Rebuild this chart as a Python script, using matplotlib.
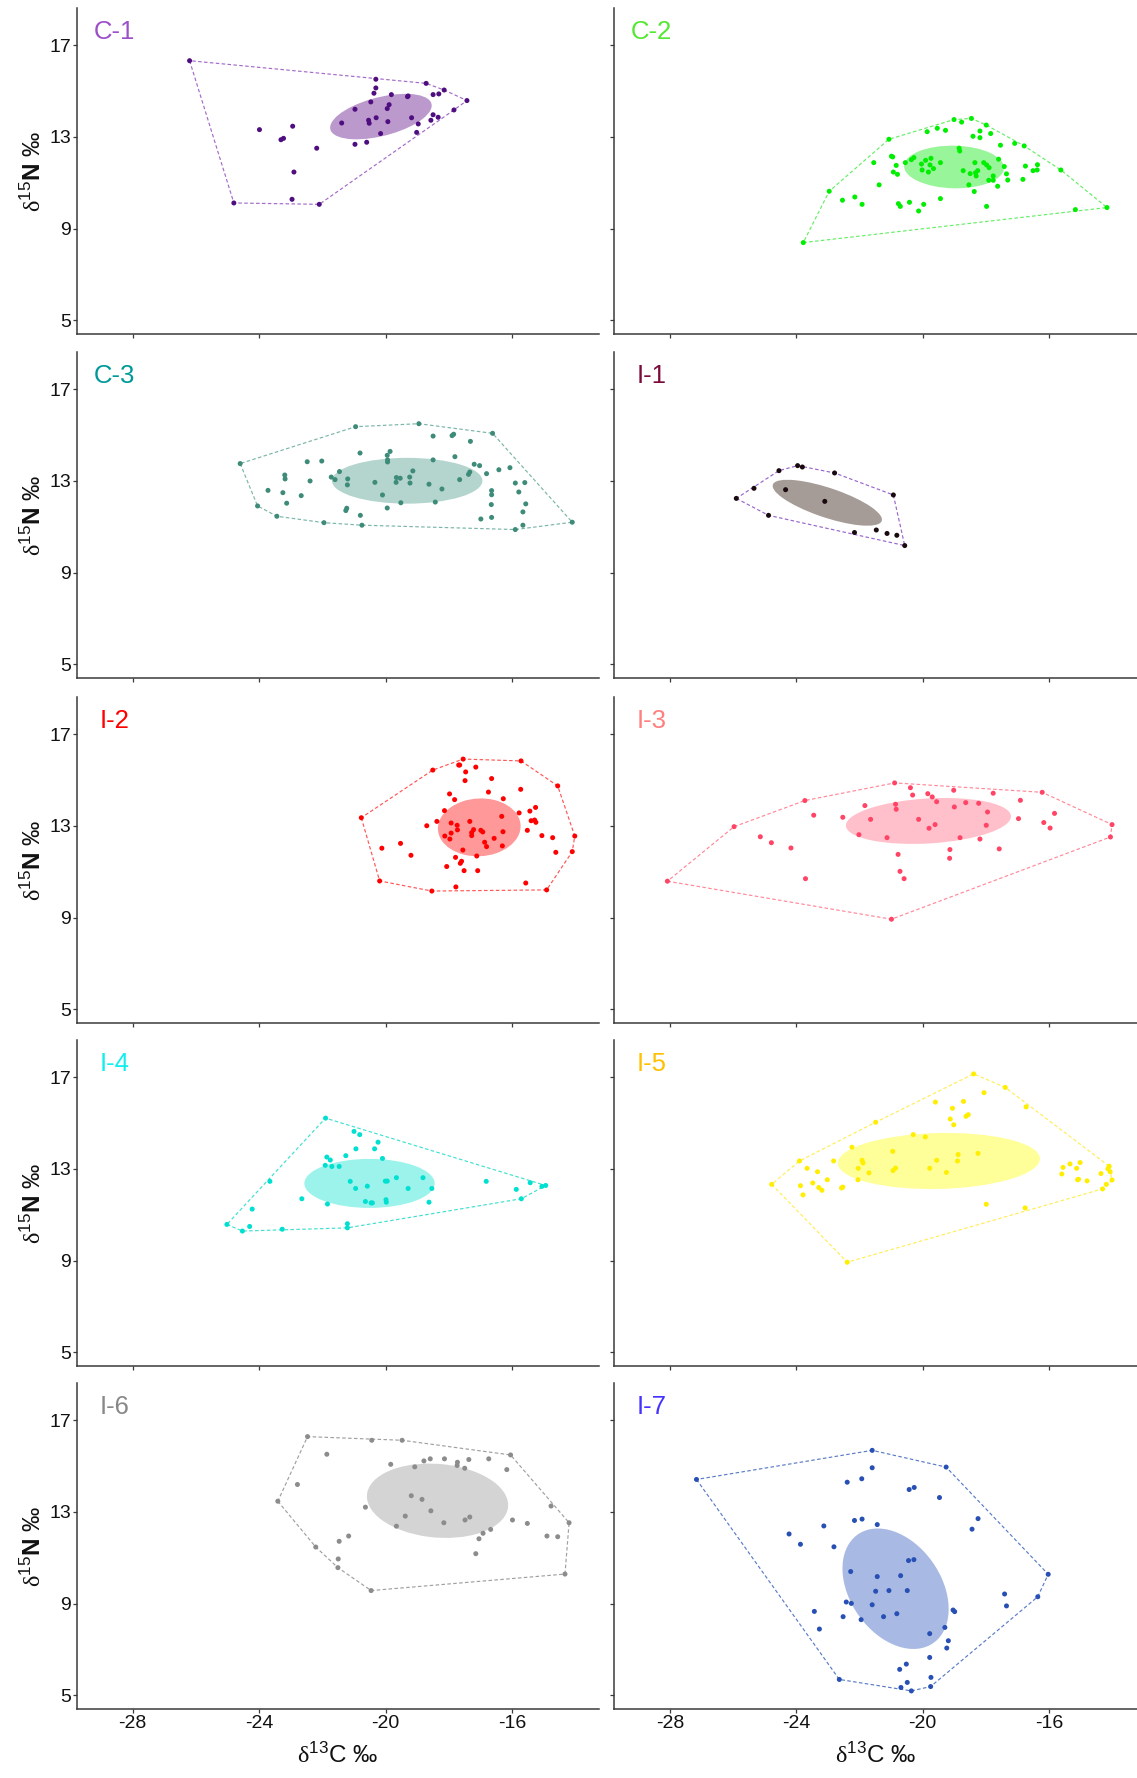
"""
Isotopic niche panels: d13C vs d15N per group with convex hulls and SEA ellipses.
"""

import numpy as np
import matplotlib.pyplot as plt
from matplotlib.patches import Ellipse
from matplotlib.transforms import blended_transform_factory

plt.rcParams["font.family"] = ["Liberation Sans", "DejaVu Sans"]
plt.rcParams["mathtext.fontset"] = "custom"
plt.rcParams["mathtext.rm"] = "Liberation Sans"
plt.rcParams["mathtext.it"] = "Liberation Sans:italic"
plt.rcParams["mathtext.bf"] = "Liberation Sans:bold"
plt.rcParams["mathtext.sf"] = "Liberation Serif"

# ---- data: d13C (x) and d15N (y) per group ----
C1_C = [-26.20, -20.31, -18.72, -18.15, -17.43, -17.84, -20.31, -20.37, -19.82, -19.31,
        -19.29, -18.50, -18.32, -20.47, -19.89, -19.95, -20.97, -18.50, -18.34, -19.18,
        -20.30, -18.57, -21.39, -20.54, -20.52, -19.93, -18.97, -23.99, -22.94, -19.02,
        -20.16, -23.31, -23.23, -20.97, -20.60, -22.18, -22.90, -22.96, -24.80, -22.10]
C1_N = [16.33, 15.52, 15.34, 15.05, 14.59, 14.18, 15.14, 14.91, 14.85, 14.76,
        14.79, 14.85, 14.88, 14.53, 14.41, 14.24, 14.21, 13.97, 13.86, 13.84,
        13.84, 13.73, 13.61, 13.73, 13.60, 13.67, 13.57, 13.32, 13.47, 13.20,
        13.15, 12.88, 12.94, 12.68, 12.77, 12.51, 11.47, 10.28, 10.12, 10.06]

C2_C = [-23.78, -22.96, -21.07, -19.01, -18.77, -18.46, -17.99, -19.86, -19.54, -19.28,
        -18.41, -18.19, -18.19, -17.85, -17.54, -17.09, -16.79, -15.63, -14.17, -15.17,
        -21.55, -20.99, -20.95, -20.84, -20.93, -20.80, -20.55, -20.36, -20.28, -20.04,
        -19.91, -19.77, -19.74, -19.66, -19.82, -20.02, -19.44, -18.85, -18.83, -18.72,
        -18.50, -18.33, -18.26, -18.31, -18.35, -18.07, -17.98, -17.90, -17.60, -17.42,
        -17.77, -17.91, -17.77, -17.35, -17.31, -17.63, -16.83, -16.75, -16.51, -16.38,
        -16.37, -18.54, -18.37, -17.98, -19.44, -19.97, -20.13, -20.42, -20.71, -20.77,
        -21.38, -21.92, -22.15, -22.54]
C2_N = [8.39, 10.63, 12.90, 13.76, 13.65, 13.81, 13.52, 13.23, 13.38, 13.29,
        13.03, 13.26, 12.97, 13.15, 12.64, 12.72, 12.61, 11.56, 9.92, 9.83,
        11.88, 12.16, 12.13, 11.76, 11.47, 11.37, 11.88, 12.01, 12.10, 11.82,
        11.98, 11.78, 12.07, 11.62, 11.47, 11.56, 11.88, 12.51, 12.39, 11.53,
        11.40, 11.44, 11.53, 11.30, 11.88, 11.88, 11.78, 11.66, 12.03, 11.71,
        11.30, 11.11, 11.11, 11.39, 11.12, 10.85, 11.15, 11.73, 11.53, 11.56,
        11.79, 10.91, 10.62, 9.97, 10.31, 10.06, 9.77, 10.15, 9.97, 10.09,
        10.91, 10.06, 10.38, 10.24]

C3_C = [-24.60, -24.05, -23.44, -21.95, -20.75, -15.90, -15.66, -14.10, -16.62, -18.95,
        -20.95, -18.50, -17.90, -17.85, -17.32, -20.81, -19.86, -19.95, -19.94, -19.94,
        -18.50, -17.81, -17.20, -17.03, -16.07, -16.42, -16.81, -17.34, -17.38, -17.66,
        -15.90, -15.60, -15.79, -16.65, -16.65, -16.66, -16.65, -16.99, -15.57, -15.66,
        -22.48, -22.02, -23.19, -23.18, -22.39, -21.72, -21.60, -21.46, -21.20, -21.21,
        -23.72, -23.25, -23.13, -22.67, -20.34, -20.10, -19.66, -19.54, -19.67, -19.24,
        -19.23, -19.14, -18.63, -18.22, -18.43, -19.52, -19.95, -21.23, -21.26, -20.80]
C3_N = [13.76, 11.91, 11.46, 11.18, 11.07, 10.88, 11.07, 11.20, 15.08, 15.50,
        15.37, 14.96, 14.98, 15.04, 14.73, 14.22, 14.29, 14.12, 13.92, 13.83,
        13.92, 14.06, 13.73, 13.67, 13.58, 13.49, 13.32, 13.39, 13.29, 13.06,
        12.91, 12.93, 12.52, 12.58, 12.40, 11.97, 11.41, 11.34, 12.00, 11.65,
        13.84, 13.87, 13.26, 13.09, 13.00, 13.17, 13.06, 13.41, 13.09, 12.83,
        12.59, 12.49, 12.03, 12.36, 12.94, 12.39, 13.15, 13.12, 12.94, 13.17,
        12.91, 13.44, 12.86, 12.65, 12.08, 12.05, 11.82, 11.81, 11.71, 11.50]

I1_C = [-25.90, -25.34, -24.88, -24.55, -23.96, -23.81, -22.79, -20.93, -20.57, -24.34,
        -23.10, -22.16, -21.47, -21.13, -20.82]
I1_N = [12.24, 12.68, 11.50, 13.45, 13.67, 13.61, 13.35, 12.39, 10.18, 12.62,
        12.11, 10.75, 10.86, 10.71, 10.63]

I2_C = [-20.77, -20.19, -18.54, -14.91, -14.10, -14.02, -14.56, -15.72, -17.55, -18.51,
        -17.69, -17.66, -17.47, -17.15, -17.49, -16.65, -15.73, -16.75, -17.98, -17.82,
        -16.28, -18.14, -18.38, -18.70, -17.93, -17.74, -17.73, -17.34, -17.93, -18.13,
        -17.97, -17.28, -17.22, -17.28, -16.99, -16.93, -16.33, -15.78, -15.44, -15.26,
        -15.40, -15.29, -15.25, -15.52, -16.29, -16.57, -15.06, -14.72, -14.62, -16.87,
        -16.81, -16.31, -17.56, -17.12, -17.79, -17.60, -17.64, -18.07, -17.52, -17.09,
        -17.78, -15.57, -20.12, -19.53, -19.20]
I2_N = [13.36, 10.60, 10.16, 10.21, 11.88, 12.56, 14.75, 15.84, 15.92, 15.44,
        15.66, 15.66, 15.36, 15.57, 14.98, 15.07, 14.60, 14.48, 14.40, 14.15,
        14.19, 13.67, 13.20, 13.01, 13.13, 13.03, 12.83, 13.20, 12.69, 12.56,
        12.43, 12.58, 12.84, 12.71, 12.81, 12.74, 13.42, 13.57, 13.65, 13.81,
        13.23, 13.26, 13.16, 12.81, 12.75, 12.46, 12.58, 12.49, 11.85, 12.29,
        12.10, 12.13, 11.95, 11.69, 11.63, 11.46, 11.37, 11.23, 11.05, 11.05,
        10.34, 10.51, 12.03, 12.24, 11.72]

I3_C = [-28.08, -25.97, -23.73, -20.89, -20.39, -19.02, -17.77, -16.22, -14.01, -14.06,
        -20.99, -20.32, -19.84, -19.70, -19.56, -21.83, -20.86, -20.84, -23.45, -22.53,
        -21.65, -20.13, -19.80, -19.61, -19.00, -18.64, -18.23, -17.95, -17.99, -16.91,
        -16.97, -16.17, -15.97, -15.83, -22.02, -21.13, -18.82, -18.19, -17.58, -19.14,
        -19.15, -20.78, -20.72, -20.59, -23.71, -25.14, -24.79, -24.17]
I3_N = [10.59, 12.97, 14.11, 14.88, 14.67, 14.56, 14.43, 14.47, 13.06, 12.52,
        8.93, 14.35, 14.41, 14.27, 14.06, 13.89, 13.95, 13.73, 13.47, 13.38,
        13.29, 13.29, 12.90, 13.06, 13.83, 14.02, 13.99, 13.61, 13.03, 14.12,
        13.32, 13.15, 12.91, 13.55, 12.62, 12.49, 12.49, 12.43, 12.00, 11.97,
        11.59, 11.76, 11.02, 10.70, 10.70, 12.53, 12.27, 12.04]

I4_C = [-25.02, -24.53, -24.30, -23.27, -21.21, -21.21, -21.90, -21.00, -20.82, -20.24,
        -20.94, -20.35, -21.26, -21.86, -21.75, -21.91, -21.70, -21.47, -20.10, -23.66,
        -21.12, -20.95, -20.58, -20.01, -19.95, -19.66, -19.29, -18.82, -18.54, -16.82,
        -15.87, -15.43, -15.06, -14.94, -15.71, -18.63, -20.64, -20.46, -20.42, -19.99,
        -19.98, -21.84, -22.65, -24.22]
I4_N = [10.58, 10.29, 10.49, 10.37, 10.43, 10.61, 15.22, 14.64, 14.50, 14.17,
        13.88, 13.88, 13.58, 13.52, 13.39, 13.16, 13.11, 13.11, 13.46, 12.46,
        12.46, 12.15, 12.25, 12.47, 12.47, 12.62, 12.15, 12.62, 12.15, 12.46,
        12.11, 12.40, 12.24, 12.28, 11.70, 11.55, 11.58, 11.52, 11.52, 11.66,
        11.55, 11.47, 11.70, 11.25]

I5_C = [-24.78, -23.90, -21.49, -18.39, -17.39, -16.73, -14.10, -14.01, -14.19, -14.31,
        -22.39, -16.76, -17.99, -19.60, -19.06, -18.71, -18.06, -19.13, -19.02, -18.63,
        -18.56, -20.30, -19.92, -22.24, -20.95, -18.88, -18.25, -22.82, -21.92, -21.89,
        -19.56, -18.90, -22.04, -21.70, -20.94, -20.86, -19.78, -19.25, -23.66, -23.33,
        -23.02, -22.05, -23.87, -23.48, -23.29, -23.19, -23.79, -22.57, -22.53, -15.60,
        -15.56, -15.34, -15.13, -15.02, -15.10, -15.07, -14.80, -14.36, -14.14, -14.07]
I5_N = [12.33, 13.35, 15.04, 17.15, 16.56, 15.71, 13.12, 12.52, 12.33, 12.13,
        8.93, 11.30, 11.46, 15.92, 15.65, 15.95, 16.33, 15.18, 14.93, 15.30,
        15.37, 14.50, 14.40, 13.95, 13.77, 13.63, 13.68, 13.35, 13.38, 13.26,
        13.38, 13.35, 13.03, 12.83, 12.93, 13.04, 13.03, 12.85, 13.03, 12.88,
        12.53, 12.53, 12.27, 12.39, 12.19, 12.07, 11.87, 12.17, 12.21, 12.78,
        13.07, 13.22, 13.03, 13.28, 12.53, 12.55, 12.48, 12.80, 13.01, 12.88]

I6_C = [-23.41, -22.47, -20.44, -19.48, -16.05, -14.77, -14.20, -14.33, -20.46, -21.51,
        -22.21, -21.86, -22.79, -19.84, -19.08, -18.79, -18.59, -18.14, -17.73, -17.74,
        -17.37, -17.50, -16.74, -16.17, -19.19, -18.85, -20.64, -18.57, -19.38, -19.66,
        -18.16, -17.49, -17.34, -15.99, -15.52, -16.68, -16.92, -17.05, -17.15, -14.90,
        -14.56, -21.17, -21.47, -21.50]
I6_N = [13.47, 16.29, 16.13, 16.13, 15.49, 13.26, 12.53, 10.29, 9.57, 10.57,
        11.47, 15.52, 14.20, 15.08, 14.97, 15.23, 15.32, 15.32, 15.17, 15.03,
        15.29, 14.91, 15.32, 14.85, 13.71, 13.55, 13.21, 13.05, 12.82, 12.38,
        12.53, 12.65, 12.78, 12.65, 12.50, 12.24, 12.07, 11.83, 11.18, 11.95,
        11.92, 11.95, 11.72, 10.95]

I7_C = [-27.16, -21.60, -19.26, -16.03, -16.36, -19.75, -20.36, -20.69, -22.64, -21.60,
        -21.93, -22.39, -20.43, -20.27, -19.47, -22.16, -21.92, -21.44, -23.13, -24.23,
        -23.87, -22.81, -18.25, -18.44, -20.45, -20.28, -22.28, -21.44, -20.70, -21.49,
        -21.07, -20.49, -22.42, -22.26, -21.60, -23.43, -22.52, -21.95, -21.24, -20.82,
        -23.27, -19.04, -18.99, -17.41, -17.35, -19.78, -19.30, -19.19, -19.24, -19.78,
        -20.52, -20.73, -19.74, -20.49]
I7_N = [14.42, 15.69, 14.96, 10.28, 9.30, 5.38, 5.19, 5.34, 5.69, 14.93,
        14.45, 14.30, 13.98, 14.07, 13.63, 12.63, 12.69, 12.45, 12.39, 12.04,
        11.59, 11.48, 12.71, 12.25, 10.88, 10.92, 10.40, 10.18, 10.22, 9.54,
        9.57, 9.57, 9.07, 9.01, 8.95, 8.66, 8.43, 8.30, 8.43, 8.56,
        7.89, 8.72, 8.65, 9.42, 8.90, 7.69, 7.96, 7.38, 7.06, 6.65,
        6.36, 6.13, 5.78, 5.56]

# standard ellipses: centre x, centre y, semi-major, semi-minor, angle (deg)
SEA = {
    "C-1": (-20.15, 13.89, 1.70, 0.82, 22),
    "C-2": (-19.01, 11.69, 1.58, 0.93, -2),
    "C-3": (-19.32, 13.01, 2.38, 1.00, 0),
    "I-1": (-23.02, 12.05, 1.90, 0.62, -26),
    "I-2": (-17.04, 12.94, 1.32, 1.25, 25),
    "I-3": (-19.82, 13.22, 2.62, 0.98, 5),
    "I-4": (-20.51, 12.37, 2.06, 1.07, 0),
    "I-5": (-19.49, 13.35, 3.20, 1.22, 2),
    "I-6": (-18.36, 13.49, 2.25, 1.60, -10),
    "I-7": (-20.86, 9.65, 2.72, 1.53, -72),
}

# name, x, y, point colour, ellipse fill, hull colour, title colour
GROUPS = [
    ("C-1", C1_C, C1_N, "#4f0e80", "#bb99cc", "#a46bc9", "#9b4fc9"),
    ("C-2", C2_C, C2_N, "#00ee00", "#99f599", "#66ee66", "#55e833"),
    ("C-3", C3_C, C3_N, "#3d8b78", "#b4d5ce", "#7bb5a8", "#009999"),
    ("I-1", I1_C, I1_N, "#1a0a0f", "#a59b97", "#9966cc", "#7a0a3a"),
    ("I-2", I2_C, I2_N, "#ff0000", "#ff9999", "#ff5555", "#ff0000"),
    ("I-3", I3_C, I3_N, "#ff4466", "#ffc0cb", "#ff8899", "#ff7f7f"),
    ("I-4", I4_C, I4_N, "#00e0d0", "#9cf3ec", "#40e0d0", "#11eeee"),
    ("I-5", I5_C, I5_N, "#ffee00", "#ffff99", "#ffee55", "#ffc000"),
    ("I-6", I6_C, I6_N, "#8c8c8c", "#d4d4d4", "#a0a0a0", "#888888"),
    ("I-7", I7_C, I7_N, "#2850b4", "#a8bae3", "#5a7cc8", "#4433ff"),
]

XTICKS = [-28, -24, -20, -16]
YTICKS = [5, 9, 13, 17]


def convex_hull(xs, ys):
    pts = sorted(set(zip(xs, ys)))

    def cross(o, a, b):
        return (a[0] - o[0]) * (b[1] - o[1]) - (a[1] - o[1]) * (b[0] - o[0])

    lower, upper = [], []
    for p in pts:
        while len(lower) >= 2 and cross(lower[-2], lower[-1], p) <= 0:
            lower.pop()
        lower.append(p)
    for p in reversed(pts):
        while len(upper) >= 2 and cross(upper[-2], upper[-1], p) <= 0:
            upper.pop()
        upper.append(p)
    hull = lower[:-1] + upper[:-1]
    hull.append(hull[0])
    return np.array(hull)


def main():
    W, H = 1137, 1778
    fig = plt.figure(figsize=(W / 100, H / 100), dpi=100)

    col_x0 = [77.3, 614.0]
    col_x1 = [598.5, 1137.0]
    col_xlim = [(-29.75, -13.27), (-29.77, -13.22)]
    row_top = [8, 352, 697, 1040, 1383]
    row_h = 326
    ylim = (4.4, 18.63)
    axis_col = "#3a3a3a"

    for i, (name, xs, ys, pc, fc, hc, tc) in enumerate(GROUPS):
        row, col = divmod(i, 2)
        x0, x1 = col_x0[col], col_x1[col]
        top = row_top[row]
        ax = fig.add_axes([x0 / W, 1 - (top + row_h) / H, (x1 - x0) / W, row_h / H])
        ax.set_xlim(*col_xlim[col])
        ax.set_ylim(*ylim)

        hull = convex_hull(xs, ys)
        ax.plot(hull[:, 0], hull[:, 1], color=hc, lw=0.85, ls=(0, (3, 2)), zorder=2)

        cx, cy, a, b, ang = SEA[name]
        ax.add_patch(Ellipse((cx, cy), 2 * a, 2 * b, angle=ang,
                             facecolor=fc, edgecolor="none", zorder=1))
        ax.scatter(xs, ys, s=13, color=pc, edgecolors="none", zorder=3)

        tr = blended_transform_factory(ax.transData, ax.transAxes)
        ax.text(-28.58, 0.925, name, transform=tr, color=tc,
                fontsize=18.5, ha="center", va="center")

        for side in ("top", "right"):
            ax.spines[side].set_visible(False)
        for side in ("left", "bottom"):
            ax.spines[side].set_color(axis_col)
            ax.spines[side].set_linewidth(1.1)
        ax.set_xticks(XTICKS)
        ax.set_yticks(YTICKS)
        ax.tick_params(direction="out", length=3, width=0.9, color=axis_col,
                       labelsize=14, labelcolor="#111111", pad=1.5)
        if row < 4:
            ax.tick_params(labelbottom=False)
        else:
            ax.set_xticklabels([str(t) for t in XTICKS])
            ax.text(0.5, -0.143, r"$\mathsf{\delta}^{13}$C ‰", transform=ax.transAxes,
                    fontsize=17.5, ha="center", va="center", color="#111111")
        if col == 1:
            ax.tick_params(labelleft=False)
        else:
            ax.text(-0.0837, 0.5, r"$\mathsf{\delta}^{15}$$\mathbf{N}$ ‰",
                    transform=ax.transAxes, rotation=90, fontsize=17.5,
                    ha="center", va="center", color="#111111")

    fig.savefig("out.png", dpi=100)


if __name__ == "__main__":
    main()
